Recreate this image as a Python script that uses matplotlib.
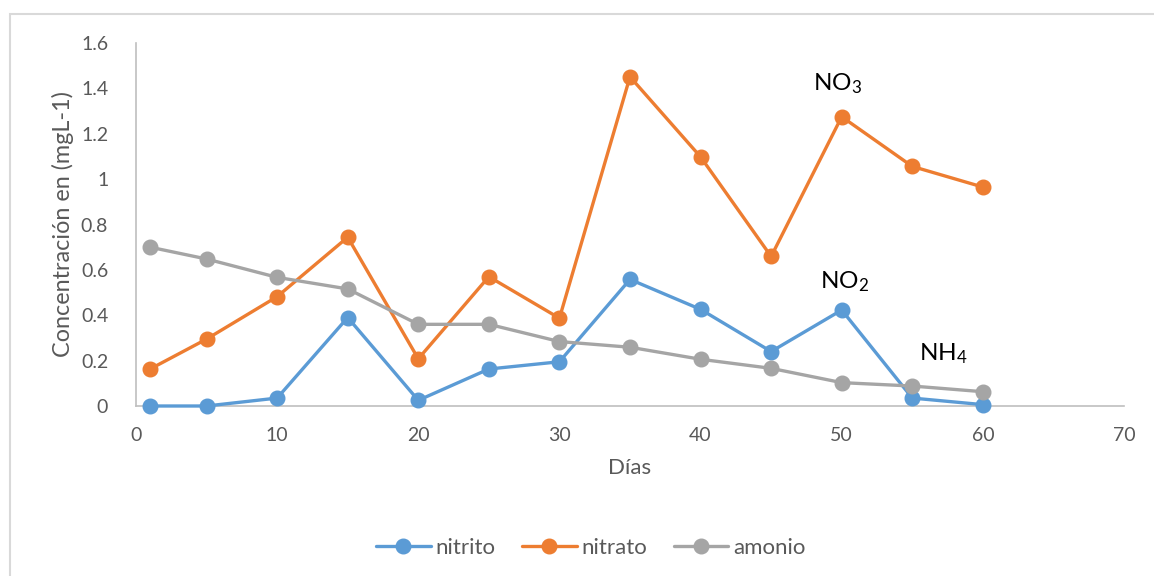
import matplotlib
matplotlib.use("Agg")
import matplotlib.pyplot as plt
from matplotlib.patches import Rectangle

plt.rcParams['font.family'] = ['Lato', 'DejaVu Sans']
plt.rcParams['mathtext.fontset'] = 'custom'
plt.rcParams['mathtext.rm'] = 'Lato'

# dias de muestreo y concentraciones (mg/L)
dias = [1, 5, 10, 15, 20, 25, 30, 35, 40, 45, 50, 55, 60]
nitrito = [0.0, 0.0, 0.035, 0.39, 0.025, 0.163, 0.195, 0.558, 0.426, 0.24, 0.423, 0.035, 0.006]
nitrato = [0.163, 0.295, 0.482, 0.744, 0.208, 0.57, 0.387, 1.451, 1.098, 0.659, 1.275, 1.056, 0.965]
amonio = [0.70, 0.648, 0.567, 0.516, 0.36, 0.36, 0.284, 0.259, 0.206, 0.166, 0.103, 0.088, 0.063]

series = [("nitrito", nitrito, "#5B9BD5"),
          ("nitrato", nitrato, "#ED7D31"),
          ("amonio", amonio, "#A5A5A5")]

fig = plt.figure(figsize=(11.54, 5.76), dpi=100)
ax = fig.add_axes([136/1154, 1-406/576, (1124-136)/1154, (406-43)/576])

for nombre, valores, color in series:
    ax.plot(dias, valores, color=color, lw=2.4, marker='o', ms=10.5,
            label=nombre, solid_capstyle='round', clip_on=False, zorder=3)

ax.set_xlim(0, 70)
ax.set_ylim(0, 1.6)
ax.set_xticks(range(0, 71, 10))
ax.set_yticks([0, 0.2, 0.4, 0.6, 0.8, 1, 1.2, 1.4, 1.6])
ax.set_yticklabels(['0', '0.2', '0.4', '0.6', '0.8', '1', '1.2', '1.4', '1.6'])
ax.tick_params(length=0, labelsize=14, colors='#595959', pad=15)
ax.tick_params(axis='y', pad=20)

for lado in ['top', 'right']:
    ax.spines[lado].set_visible(False)
for lado in ['left', 'bottom']:
    ax.spines[lado].set_color('#BFBFBF')
    ax.spines[lado].set_linewidth(1.2)
    ax.spines[lado].set_zorder(1)

ax.set_xlabel('Días', fontsize=16, color='#595959', labelpad=10)
ax.set_ylabel('Concentración en (mgL-1)', fontsize=16.8, color='#595959', labelpad=5)

# etiquetas de cada compuesto
ax.text(49.7, 1.42, r'NO$\mathregular{_3}$', fontsize=17.5, ha='center', va='center')
ax.text(50.2, 0.546, r'NO$\mathregular{_2}$', fontsize=17.5, ha='center', va='center')
ax.text(57.2, 0.229, r'NH$\mathregular{_4}$', fontsize=17.5, ha='center', va='center')

fig.legend(loc='center', bbox_to_anchor=(591/1154, 1-548/576), ncol=3,
           frameon=False, fontsize=16, labelcolor='#595959',
           handlelength=2.45, handletextpad=0.22, columnspacing=1.2)

# marco del area del grafico
fig.patches.append(Rectangle((10/1154, -0.05), 1.2, 1-14/576+0.05,
                             transform=fig.transFigure, fill=False,
                             edgecolor='#D9D9D9', lw=1.5))

fig.savefig('out.png', dpi=100)
